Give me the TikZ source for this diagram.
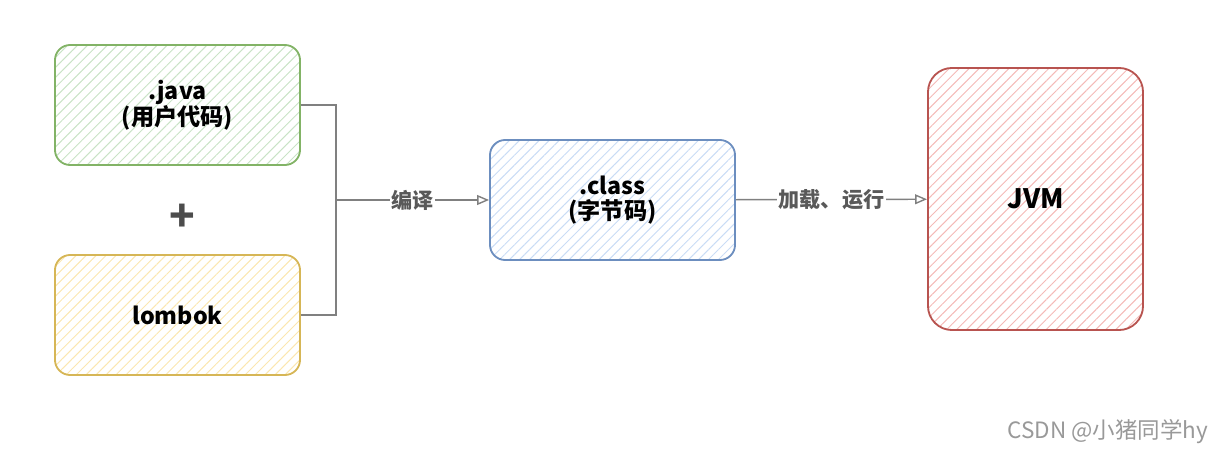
\documentclass[tikz,border=0pt]{standalone}
\usepackage{fontspec}
\setmainfont{Noto Sans CJK SC}
\usepackage{tikz}
\usetikzlibrary{arrows.meta,positioning,patterns.meta,calc}

\definecolor{grnline}{HTML}{82B366}
\definecolor{grnfill}{HTML}{C9E3C6}
\definecolor{ylwline}{HTML}{D6B656}
\definecolor{ylwfill}{HTML}{FBE7B0}
\definecolor{bluline}{HTML}{6C8EBF}
\definecolor{blufill}{HTML}{C9DCF5}
\definecolor{redline}{HTML}{B85450}
\definecolor{redfill}{HTML}{F4B9B7}
\definecolor{linkgray}{HTML}{808080}

\begin{document}
\begin{tikzpicture}[
        x=0.025cm, y=-0.025cm,
        srcbox/.style={rectangle, rounded corners=0.38cm, line width=1.3pt, minimum width=6.125cm, minimum height=3cm, align=center, font=\fontsize{16.5}{17.5}\selectfont\bfseries},
        hatch/.style={pattern={Lines[angle=45,distance=5pt,line width=0.7pt]}, pattern color=#1},
        arrow/.style={-{Triangle[open,length=8.5pt,width=7pt]}, draw=linkgray, line width=1pt},
        link/.style={draw=linkgray, line width=1pt},
        steplabel/.style={fill=white, inner sep=1pt, text=black!65, font=\fontsize{15}{17}\selectfont\bfseries}
    ]
    \useasboundingbox (0,0) rectangle (1217,451);

    % Sources
    \node[srcbox, draw=grnline, hatch=grnfill] (java) at (177.5,105) {.java\\(用户代码)};
    \node[srcbox, draw=ylwline, hatch=ylwfill] (lombok) at (177.5,315) {lombok};
    \node[text=black!70, font=\fontsize{30}{30}\selectfont\bfseries] (plus) at (182,218) {+};

    % Byte code
    \node[srcbox, draw=bluline, hatch=blufill] (class) at (612.5,200) {.class\\(字节码)};

    % Virtual machine
    \node[srcbox, draw=redline, hatch=redfill, rounded corners=0.6cm, minimum width=5.375cm, minimum height=6.55cm, font=\fontsize{19}{20}\selectfont\bfseries] (jvm) at (1035.5,199) {JVM};

    % Links
    \coordinate (join) at (336,200);
    \draw[link] (java.east) -| (join);
    \draw[link] (lombok.east) -| (join);
    \draw[arrow] (join) -- node[steplabel, pos=0.5] {编译} (class);
    \draw[arrow] (class) -- node[steplabel, pos=0.5] {加载、运行} (jvm);

    % Watermark
    \node[anchor=east, text=black!40, font=\fontsize{16}{17}\selectfont] (mark) at (1213,432) {CSDN @小猪同学hy};

\end{tikzpicture}
\end{document}
